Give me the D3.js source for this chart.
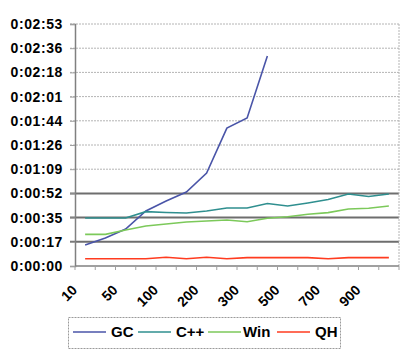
<!DOCTYPE html>
<html>
<head>
<meta charset="utf-8">
<script src="https://cdn.jsdelivr.net/npm/d3@7"></script>
<style>
  body { margin: 0; background: #fff; }
  text { font-family: Arial, "Liberation Sans", sans-serif; font-weight: bold; fill: #000; }
</style>
</head>
<body>
<script>
// categories (every other one gets a label)
var categories = [10, 25, 50, 75, 100, 150, 200, 250, 300, 400, 500, 600, 700, 800, 900, 1000];
var shownLabels = ["10", "50", "100", "200", "300", "500", "700", "900"];

// times in seconds
var gcData  = [15.0, 20.0, 26.4, 39.3, 46.4, 52.8, 66.4, 98.5, 105.7, 150.0];
var cppData = [34.3, 34.3, 34.3, 38.8, 38.2, 37.8, 39.3, 41.4, 41.4, 44.6, 42.8, 45.0, 47.5, 51.4, 49.6, 51.4];
var winData = [22.6, 22.6, 25.7, 28.6, 30.0, 31.4, 32.1, 32.8, 31.6, 34.1, 35.2, 36.9, 38.1, 40.7, 41.2, 42.8];
var qhData  = [5.2, 5.2, 5.2, 5.2, 6.2, 5.2, 6.2, 5.2, 6.0, 6.0, 6.0, 6.0, 5.2, 6.0, 6.0, 6.0];

var yTickLabels = ["0:00:00", "0:00:17", "0:00:35", "0:00:52", "0:01:09", "0:01:26",
                   "0:01:44", "0:02:01", "0:02:18", "0:02:36", "0:02:53"];
var yStep = 17.28;

var seriesNames = ["GC", "C++", "Win", "QH"];
var seriesColors = ["#4a55a8", "#2f8f8f", "#7cc95a", "#ff3b1f"];

var width = 412;
var height = 360;
var plotLeft = 75, plotRight = 399, plotTop = 24, plotBottom = 266;

var svg = d3.select("body").append("svg")
  .attr("width", width)
  .attr("height", height);

var x = d3.scaleBand().domain(d3.range(categories.length)).range([plotLeft, plotRight]).padding(0);
var y = d3.scaleLinear().domain([0, yStep * 10]).range([plotBottom, plotTop]);

var yTicks = yTickLabels.map(function(d, i){ return i * yStep; });

// gridlines - the upper ones dotted, the lower ones solid gray
svg.append("g").selectAll("line")
  .data(yTicks.slice(1))
  .enter().append("line")
  .attr("x1", plotLeft - 5)
  .attr("x2", plotRight)
  .attr("y1", function(d){ return y(d); })
  .attr("y2", function(d){ return y(d); })
  .attr("stroke", function(d, i){ return i < 3 ? "#6e6e6e" : "#b4b4b4"; })
  .attr("stroke-width", function(d, i){ return i < 3 ? 2 : 1; })
  .attr("stroke-dasharray", function(d, i){ return i < 3 ? null : "2,1"; });

// right border dotted
svg.append("line")
  .attr("x1", plotRight).attr("x2", plotRight)
  .attr("y1", plotTop).attr("y2", plotBottom)
  .attr("stroke", "#b4b4b4")
  .attr("stroke-dasharray", "2,1");

// y axis
var yAxis = d3.axisLeft(y)
  .tickValues(yTicks)
  .tickFormat(function(d, i){ return yTickLabels[i]; })
  .tickSize(5)
  .tickPadding(7);
var gy = svg.append("g").attr("transform", "translate(" + plotLeft + ",0)").call(yAxis);
gy.select(".domain").attr("stroke", "#808080").attr("stroke-width", 1.5);
gy.selectAll(".tick line").attr("stroke", "#a0a0a0");
gy.selectAll("text").style("font-size", "14px").style("letter-spacing", "0.6px");

// x axis
var xTickScale = d3.scaleLinear().domain([0, categories.length]).range([plotLeft, plotRight]);
var gx = svg.append("g").attr("transform", "translate(0," + plotBottom + ")");
gx.append("line").attr("x1", plotLeft).attr("x2", plotRight).attr("stroke", "#808080").attr("stroke-width", 1.5);
gx.selectAll(".xt")
  .data(d3.range(categories.length + 1))
  .enter().append("line")
  .attr("class", "xt")
  .attr("x1", function(d){ return xTickScale(d); })
  .attr("x2", function(d){ return xTickScale(d); })
  .attr("y1", 0).attr("y2", 4)
  .attr("stroke", "#a0a0a0");

gx.selectAll(".xl")
  .data(shownLabels)
  .enter().append("text")
  .attr("class", "xl")
  .attr("text-anchor", "end")
  .style("font-size", "14px")
  .attr("transform", function(d, i){
    var cx = x(i * 2) + x.bandwidth() / 2 - 7;
    return "translate(" + cx + ",25) rotate(-45)";
  })
  .text(function(d){ return d; });

// lines
var line = d3.line()
  .x(function(d, i){ return x(i) + x.bandwidth() / 2; })
  .y(function(d){ return y(d); });

var allSeries = [gcData, cppData, winData, qhData];
svg.append("g").selectAll("path")
  .data(allSeries)
  .enter().append("path")
  .attr("d", line)
  .attr("fill", "none")
  .attr("stroke", function(d, i){ return seriesColors[i]; })
  .attr("stroke-width", 1.6);

// legend
var legend = svg.append("g");
legend.append("rect")
  .attr("x", 68.5).attr("y", 317.5)
  .attr("width", 272).attr("height", 31)
  .attr("fill", "none")
  .attr("stroke", "#9a9a9a")
  .attr("stroke-dasharray", "2,1");

var legX = [73, 138, 208, 277];
var item = legend.selectAll(".li")
  .data(seriesNames)
  .enter().append("g")
  .attr("class", "li")
  .attr("transform", function(d, i){ return "translate(" + legX[i] + ",332)"; });
item.append("line")
  .attr("x1", 0).attr("x2", 33)
  .attr("stroke", function(d, i){ return seriesColors[i]; })
  .attr("stroke-width", 1.6);
item.append("text")
  .attr("x", function(d, i){ return i == 2 ? 35 : 38; })
  .attr("dy", "0.36em")
  .style("font-size", "15px")
  .text(function(d){ return d; });
</script>
</body>
</html>
